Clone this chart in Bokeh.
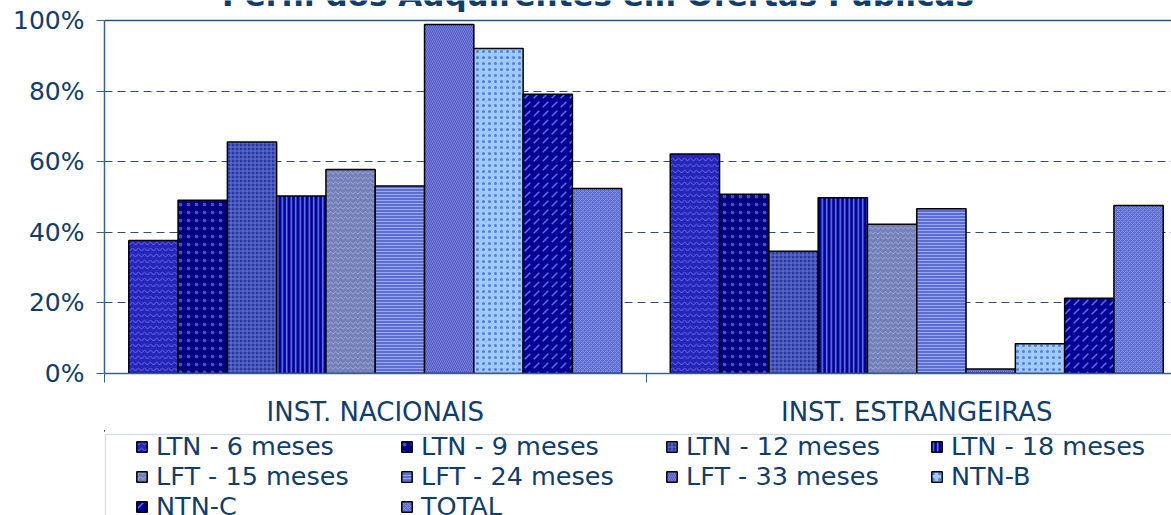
from bokeh.plotting import figure
from bokeh.layouts import column
from bokeh.models import (ColumnDataSource, Range1d, FixedTicker, PrintfTickFormatter,
                          Span, Label, Legend, LegendItem, BoxAnnotation)
from bokeh.transform import dodge
from bokeh.embed import file_html
from bokeh.resources import INLINE

# ---------------- data ----------------
title_text = "Perfil dos Adquirentes em Ofertas Públicas"
categories = ["INST. NACIONAIS", "INST. ESTRANGEIRAS"]
series = ["LTN - 6 meses", "LTN - 9 meses", "LTN - 12 meses", "LTN - 18 meses",
          "LFT - 15 meses", "LFT - 24 meses", "LFT - 33 meses", "NTN-B", "NTN-C", "TOTAL"]
nacionais = [37.7, 49.1, 65.6, 50.3, 57.8, 53.1, 98.9, 92.1, 79.1, 52.4]
estrangeiras = [62.2, 50.8, 34.6, 49.8, 42.3, 46.7, 1.3, 8.4, 21.3, 47.6]
y_ticks = [0, 20, 40, 60, 80, 100]
grid_ticks = [20, 40, 60, 80]

# ---------------- styles ----------------
styles = [
    dict(fill_color="#2626b8", hatch_pattern="horizontal_wave", hatch_color="#6a6af0", hatch_scale=6, hatch_weight=1),
    dict(fill_color="#000080", hatch_pattern="dot", hatch_color="#4a4ac0", hatch_scale=8, hatch_weight=1),
    dict(fill_color="#2838a0", hatch_pattern="cross", hatch_color="#6878d8", hatch_scale=4, hatch_weight=1),
    dict(fill_color="#00008c", hatch_pattern="vertical_line", hatch_color="#6b7fff", hatch_scale=4.5, hatch_weight=1.5),
    dict(fill_color="#7480b8", hatch_pattern="horizontal_wave", hatch_color="#a0a8d8", hatch_scale=5, hatch_weight=1),
    dict(fill_color="#5e6ed0", hatch_pattern="horizontal_line", hatch_color="#98a8f4", hatch_scale=3, hatch_weight=1),
    dict(fill_color="#5258c0", hatch_pattern="left_diagonal_line", hatch_color="#7a82e0", hatch_scale=4, hatch_weight=1),
    dict(fill_color="#9dcbff", hatch_pattern="dot", hatch_color="#5a7ad8", hatch_scale=6, hatch_weight=1),
    dict(fill_color="#000094", hatch_pattern="right_diagonal_dash", hatch_color="#5f74e8", hatch_scale=9, hatch_weight=1.5),
    dict(fill_color="#5e6ccc", hatch_pattern="diagonal_cross", hatch_color="#8290ea", hatch_scale=4, hatch_weight=1),
]

TEXT = "#113d6b"
AXIS = "#3d5f8a"
GRID = "#2f4f78"
FONT = "DejaVu Sans"

W = 1171
H1, H2 = 430, 85
LEFT = 104
Y100, Y0 = 20, 373          # pixel rows of 100% and 0%
frame_w = W - LEFT
cat_px = 541.5
n = len(series)
bar_w = 0.9104 / n
y_top = 100 * Y0 / (Y0 - Y100)   # frame reaches the top edge so the cut title can show

# ---------------- main chart ----------------
p = figure(width=W, height=H1, output_backend="svg", toolbar_location=None,
           x_range=Range1d(0, frame_w / cat_px), y_range=Range1d(0, y_top),
           min_border_left=LEFT, min_border_right=0, min_border_top=0,
           min_border_bottom=H1 - Y0)
p.outline_line_color = None
p.background_fill_color = "white"
p.border_fill_color = "white"

centers = [i + 0.5 for i in range(len(categories))]
renderers = []
for i, name in enumerate(series):
    src = ColumnDataSource(dict(x=centers, top=[nacionais[i], estrangeiras[i]]))
    r = p.vbar(x=dodge("x", (i - (n - 1) / 2) * bar_w, range=p.x_range), top="top",
               width=bar_w, source=src, line_color="black", line_width=1.5,
               **styles[i])
    renderers.append(r)

xa = p.xaxis[0]
xa.ticker = FixedTicker(ticks=centers, minor_ticks=[0, 1, 2])
xa.major_label_overrides = {c: lab for c, lab in zip(centers, categories)}
xa.major_tick_out = 0
xa.major_tick_in = 0
xa.minor_tick_out = 9
xa.minor_tick_in = 0
xa.minor_tick_line_color = AXIS
xa.axis_line_color = AXIS
xa.axis_line_width = 1.5
xa.major_label_standoff = 14
xa.major_label_text_font = FONT
xa.major_label_text_font_size = "26px"
xa.major_label_text_color = TEXT

ya = p.yaxis[0]
ya.ticker = FixedTicker(ticks=y_ticks)
ya.bounds = (0, 100)
ya.formatter = PrintfTickFormatter(format="%d%%")
ya.major_tick_out = 8
ya.major_tick_in = 0
ya.minor_tick_line_color = None
ya.major_tick_line_color = AXIS
ya.axis_line_color = AXIS
ya.axis_line_width = 1.5
ya.major_label_standoff = 12
ya.major_label_text_font = FONT
ya.major_label_text_font_size = "25px"
ya.major_label_text_color = TEXT

p.xgrid.visible = False
p.ygrid.ticker = FixedTicker(ticks=grid_ticks)
p.ygrid.grid_line_color = GRID
p.ygrid.grid_line_dash = "8 5"
p.ygrid.grid_line_width = 1

p.add_layout(Span(location=100, dimension="width", line_color=GRID, line_width=1.5))

# title, cut off at the top edge as in the reference
p.add_layout(Label(x=493.5, y=379, x_units="screen", y_units="screen", text=title_text,
                   text_align="center", text_baseline="alphabetic", text_font=FONT,
                   text_font_style="bold", text_font_size="31px", text_color=TEXT))

# ---------------- legend strip (its frame is aligned with the chart's frame) ----------------
q = figure(width=W, height=H2, output_backend="svg", toolbar_location=None,
           x_range=Range1d(0, frame_w), y_range=Range1d(H2, 0),
           min_border_left=LEFT, min_border_right=0, min_border_top=0, min_border_bottom=0)
q.axis.visible = False
q.grid.visible = False
q.outline_line_color = None
q.background_fill_color = "white"
q.border_fill_color = "white"

q.add_layout(BoxAnnotation(left=0.75, right=frame_w + 50, top=4, bottom=H2 + 50,
                           fill_alpha=0, line_color="#7f93ad", line_width=1.5))

# legend proxies: one bar each, placed outside the visible range
proxies = []
for i, name in enumerate(series):
    proxies.append(q.vbar(x=[-500], top=[0], width=1, line_color="black", line_width=1.5,
                          **styles[i]))

legend = Legend(items=[LegendItem(label=s, renderers=[r]) for s, r in zip(series, proxies)],
                orientation="horizontal", ncols=4, location=(31, -6),
                glyph_width=13, glyph_height=13, label_standoff=8, label_width=244,
                label_height=20, spacing=-4, padding=0, margin=0,
                border_line_alpha=0, background_fill_alpha=0,
                label_text_font=FONT, label_text_font_size="25.5px",
                label_text_color=TEXT)
q.add_layout(legend)

layout = column(p, q, spacing=0)
open("out.html", "w").write(file_html(layout, INLINE))
